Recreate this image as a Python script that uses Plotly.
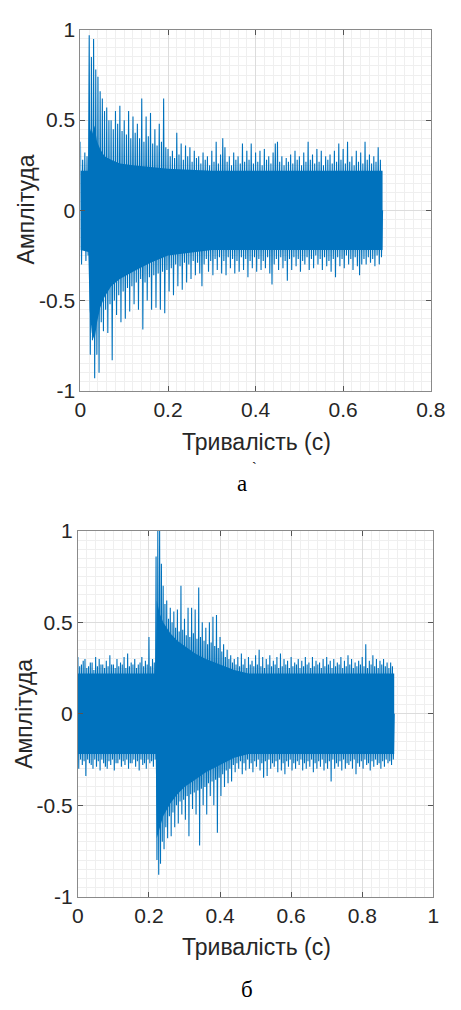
import numpy as np
import plotly.graph_objects as go

W, H = 461, 1010
STEP = 0.005  # bin width of the max/min readings below

# ---------------- data ----------------
# Signal (a): per-0.005 s bin max / min, t = 0.000 ... 0.685, signal ends at 0.69 s
a_t_end = 0.69
a_hi = [0.38, 0.28, 0.32, 0.30, 0.97, 0.85, 0.95, 0.78, 0.74, 0.66,
        0.62, 0.55, 0.57, 0.50, 0.50, 0.45, 0.55, 0.48, 0.58, 0.44,
        0.50, 0.42, 0.55, 0.40, 0.52, 0.43, 0.48, 0.40, 0.62, 0.38,
        0.52, 0.41, 0.54, 0.37, 0.45, 0.36, 0.48, 0.38, 0.62, 0.35,
        0.34, 0.30, 0.33, 0.29, 0.43, 0.31, 0.37, 0.28, 0.36, 0.30,
        0.35, 0.27, 0.33, 0.29, 0.30, 0.26, 0.32, 0.28, 0.30, 0.25,
        0.33, 0.27, 0.38, 0.26, 0.31, 0.40, 0.35, 0.27, 0.30, 0.25,
        0.32, 0.28, 0.30, 0.26, 0.37, 0.27, 0.33, 0.28, 0.37, 0.26,
        0.32, 0.27, 0.33, 0.25, 0.34, 0.28, 0.30, 0.26, 0.32, 0.37,
        0.38, 0.27, 0.30, 0.25, 0.29, 0.27, 0.31, 0.26, 0.33, 0.28,
        0.30, 0.25, 0.32, 0.27, 0.38, 0.28, 0.31, 0.26, 0.34, 0.27,
        0.33, 0.25, 0.30, 0.28, 0.31, 0.26, 0.33, 0.27, 0.37, 0.28,
        0.34, 0.26, 0.38, 0.27, 0.30, 0.25, 0.33, 0.27, 0.32, 0.26,
        0.38, 0.28, 0.31, 0.26, 0.30, 0.27, 0.35, 0.28]
a_lo = [-0.30, -0.22, -0.28, -0.25, -0.80, -0.72, -0.93, -0.80, -0.90, -0.62,
        -0.67, -0.55, -0.68, -0.52, -0.83, -0.50, -0.58, -0.47, -0.62, -0.45,
        -0.60, -0.43, -0.56, -0.42, -0.52, -0.40, -0.55, -0.38, -0.66, -0.40,
        -0.50, -0.37, -0.55, -0.36, -0.54, -0.35, -0.55, -0.34, -0.57, -0.33,
        -0.45, -0.32, -0.47, -0.30, -0.42, -0.31, -0.44, -0.29, -0.40, -0.30,
        -0.38, -0.28, -0.36, -0.29, -0.35, -0.42, -0.30, -0.27, -0.34, -0.28,
        -0.36, -0.27, -0.33, -0.26, -0.35, -0.28, -0.36, -0.26, -0.32, -0.27,
        -0.35, -0.28, -0.34, -0.26, -0.33, -0.27, -0.37, -0.28, -0.32, -0.26,
        -0.34, -0.27, -0.33, -0.28, -0.32, -0.26, -0.35, -0.41, -0.30, -0.27,
        -0.33, -0.26, -0.32, -0.28, -0.39, -0.27, -0.33, -0.26, -0.31, -0.27,
        -0.34, -0.28, -0.30, -0.26, -0.33, -0.27, -0.32, -0.25, -0.30, -0.27,
        -0.33, -0.26, -0.31, -0.28, -0.34, -0.27, -0.37, -0.26, -0.31, -0.27,
        -0.32, -0.25, -0.30, -0.27, -0.33, -0.26, -0.31, -0.36, -0.30, -0.27,
        -0.30, -0.26, -0.29, -0.27, -0.31, -0.25, -0.30, -0.26]
# dense (solid) core of signal (a)
a_core_t = [0.0, 0.018, 0.021, 0.026, 0.032, 0.038, 0.045, 0.055, 0.07, 0.09,
            0.12, 0.16, 0.20, 0.30, 0.40, 0.50, 0.60, 0.69]
a_core_hi = [0.22, 0.22, 0.46, 0.42, 0.47, 0.38, 0.34, 0.30, 0.28, 0.26,
             0.25, 0.24, 0.23, 0.22, 0.22, 0.22, 0.22, 0.22]
a_core_lo = [-0.22, -0.23, -0.55, -0.68, -0.72, -0.62, -0.54, -0.48, -0.42, -0.38,
             -0.34, -0.29, -0.25, -0.22, -0.22, -0.22, -0.22, -0.22]

# Signal (б): per-0.005 s bin max / min, t = 0.000 ... 0.885, signal ends at 0.89 s
b_t_end = 0.89
b_hi = [0.31, 0.26, 0.27, 0.29, 0.30, 0.25, 0.26, 0.28, 0.28, 0.24,
        0.31, 0.26, 0.30, 0.27, 0.27, 0.25, 0.29, 0.26, 0.32, 0.27,
        0.27, 0.25, 0.30, 0.26, 0.28, 0.27, 0.31, 0.25, 0.33, 0.26,
        0.28, 0.27, 0.30, 0.25, 0.27, 0.28, 0.31, 0.26, 0.29, 0.27,
        0.42, 0.26, 0.30, 0.28, 0.86, 1.00, 1.00, 0.82, 0.70, 0.60,
        0.62, 0.52, 0.58, 0.50, 0.56, 0.47, 0.57, 0.45, 0.70, 0.46,
        0.52, 0.43, 0.58, 0.42, 0.58, 0.44, 0.57, 0.41, 0.69, 0.42,
        0.50, 0.40, 0.47, 0.38, 0.50, 0.39, 0.53, 0.37, 0.54, 0.36,
        0.42, 0.34, 0.38, 0.31, 0.35, 0.30, 0.32, 0.28, 0.30, 0.27,
        0.31, 0.26, 0.33, 0.27, 0.30, 0.25, 0.31, 0.27, 0.29, 0.26,
        0.32, 0.27, 0.35, 0.26, 0.31, 0.25, 0.30, 0.27, 0.32, 0.26,
        0.29, 0.27, 0.31, 0.25, 0.33, 0.26, 0.30, 0.27, 0.29, 0.25,
        0.31, 0.26, 0.28, 0.27, 0.30, 0.25, 0.29, 0.26, 0.31, 0.27,
        0.28, 0.25, 0.31, 0.26, 0.29, 0.27, 0.28, 0.25, 0.30, 0.26,
        0.31, 0.27, 0.29, 0.25, 0.30, 0.26, 0.28, 0.27, 0.31, 0.25,
        0.29, 0.26, 0.32, 0.27, 0.30, 0.25, 0.28, 0.26, 0.29, 0.27,
        0.31, 0.26, 0.38, 0.25, 0.29, 0.27, 0.32, 0.26, 0.30, 0.25,
        0.29, 0.27, 0.30, 0.26, 0.28, 0.25, 0.28, 0.26]
b_lo = [-0.30, -0.25, -0.28, -0.26, -0.34, -0.25, -0.27, -0.28, -0.30, -0.25,
        -0.29, -0.26, -0.31, -0.25, -0.27, -0.29, -0.30, -0.26, -0.28, -0.25,
        -0.31, -0.27, -0.27, -0.25, -0.29, -0.26, -0.28, -0.25, -0.30, -0.27,
        -0.27, -0.25, -0.29, -0.26, -0.31, -0.25, -0.28, -0.27, -0.30, -0.25,
        -0.27, -0.26, -0.29, -0.25, -0.80, -0.88, -0.82, -0.70, -0.74, -0.62,
        -0.68, -0.56, -0.67, -0.54, -0.62, -0.50, -0.60, -0.48, -0.55, -0.47,
        -0.58, -0.45, -0.67, -0.44, -0.52, -0.43, -0.55, -0.42, -0.72, -0.41,
        -0.50, -0.40, -0.55, -0.38, -0.45, -0.37, -0.50, -0.36, -0.65, -0.35,
        -0.45, -0.33, -0.40, -0.31, -0.38, -0.30, -0.37, -0.28, -0.32, -0.27,
        -0.30, -0.26, -0.33, -0.27, -0.31, -0.25, -0.30, -0.27, -0.32, -0.26,
        -0.29, -0.25, -0.31, -0.27, -0.35, -0.26, -0.34, -0.25, -0.30, -0.27,
        -0.29, -0.26, -0.32, -0.25, -0.31, -0.27, -0.33, -0.26, -0.29, -0.25,
        -0.31, -0.27, -0.30, -0.26, -0.28, -0.25, -0.31, -0.27, -0.30, -0.26,
        -0.29, -0.25, -0.32, -0.27, -0.30, -0.26, -0.29, -0.25, -0.31, -0.27,
        -0.30, -0.26, -0.37, -0.25, -0.30, -0.27, -0.29, -0.26, -0.31, -0.25,
        -0.30, -0.27, -0.28, -0.26, -0.30, -0.25, -0.33, -0.27, -0.29, -0.26,
        -0.30, -0.25, -0.28, -0.27, -0.31, -0.26, -0.29, -0.25, -0.28, -0.27,
        -0.30, -0.26, -0.29, -0.25, -0.27, -0.26, -0.28, -0.25]
# dense (solid) core of signal (б)
b_core_t = [0.0, 0.219, 0.222, 0.23, 0.24, 0.26, 0.28, 0.30, 0.33, 0.36, 0.40,
            0.44, 0.48, 0.60, 0.70, 0.80, 0.89]
b_core_hi = [0.22, 0.22, 0.62, 0.55, 0.50, 0.44, 0.40, 0.37, 0.33, 0.30, 0.27,
             0.24, 0.22, 0.22, 0.22, 0.22, 0.22]
b_core_lo = [-0.22, -0.22, -0.68, -0.62, -0.56, -0.49, -0.44, -0.40, -0.36, -0.32, -0.28,
             -0.24, -0.22, -0.22, -0.22, -0.22, -0.22]

a_xticks = [0, 0.2, 0.4, 0.6, 0.8]
a_xtext = ["0", "0.2", "0.4", "0.6", "0.8"]
b_xticks = [0, 0.2, 0.4, 0.6, 0.8, 1.0]
b_xtext = ["0", "0.2", "0.4", "0.6", "0.8", "1"]
yticks = [-1, -0.5, 0, 0.5, 1]
ytext = ["-1", "-0.5", "0", "0.5", "1"]

x_title = "Тривалість (с)"
y_title = "Амплітуда"
captions = ["а", "б"]

BLUE = "#0072BD"


def zigzag(hi, lo, t_end, step=STEP):
    xs, ys = [], []
    for i, (h, l) in enumerate(zip(hi, lo)):
        t = round(i * step, 5)
        xs += [t, t + step / 2]
        ys += [h, l]
    xs.append(t_end)
    ys.append(0.0)
    return xs, ys


def band(ct, chi, clo):
    return list(ct) + list(ct)[::-1], list(chi) + list(clo)[::-1]


fig = go.Figure()

for (hi, lo, tend, ct, chi, clo, xa, ya) in [
    (a_hi, a_lo, a_t_end, a_core_t, a_core_hi, a_core_lo, "x", "y"),
    (b_hi, b_lo, b_t_end, b_core_t, b_core_hi, b_core_lo, "x2", "y2"),
]:
    zx, zy = zigzag(hi, lo, tend)
    fig.add_trace(go.Scatter(x=zx, y=zy, mode="lines",
                             line=dict(width=1.1, color=BLUE),
                             xaxis=xa, yaxis=ya, showlegend=False))
    bx, by = band(ct, chi, clo)
    fig.add_trace(go.Scatter(x=bx, y=by, fill="toself", fillcolor=BLUE,
                             line=dict(width=0, color=BLUE), mode="lines",
                             xaxis=xa, yaxis=ya, hoverinfo="skip", showlegend=False))

FONT = "Liberation Sans, Arial, sans-serif"
TICKC = "#262626"
LINEC = "#8a8a8a"


def xaxis_cfg(domain, rng, tv, tt, minor, anchor):
    return dict(domain=domain, range=rng, tickvals=tv, ticktext=tt, anchor=anchor,
                showline=True, linecolor=LINEC, linewidth=1, mirror="ticks",
                ticks="inside", ticklen=5, tickcolor="#555555",
                showgrid=True, gridcolor="#dcdcdc", gridwidth=1, zeroline=False,
                minor=dict(dtick=minor, tick0=0, showgrid=True, gridcolor="#efefef",
                           gridwidth=1, ticks=""),
                tickfont=dict(family=FONT, size=21, color=TICKC))


def yaxis_cfg(domain, anchor):
    return dict(domain=domain, range=[-1, 1], tickvals=yticks, ticktext=ytext, anchor=anchor,
                showline=True, linecolor=LINEC, linewidth=1, mirror="ticks",
                ticks="inside", ticklen=5, tickcolor="#555555",
                showgrid=True, gridcolor="#dcdcdc", gridwidth=1, zeroline=False,
                minor=dict(dtick=0.05, tick0=0, showgrid=True, gridcolor="#efefef",
                           gridwidth=1, ticks=""),
                tickfont=dict(family=FONT, size=21, color=TICKC))


def px(x, y):
    return x / W, 1 - y / H


fig.update_layout(
    width=W, height=H, margin=dict(l=0, r=0, t=0, b=0),
    paper_bgcolor="white", plot_bgcolor="white",
    xaxis=xaxis_cfg([78 / W, 445 / W], [0, 0.8], a_xticks, a_xtext, 0.02, "y"),
    yaxis=yaxis_cfg([1 - 387.7 / H, 1 - 18.3 / H], "x"),
    xaxis2=xaxis_cfg([75.3 / W, 447.7 / W], [0, 1], b_xticks, b_xtext, 0.025, "y2"),
    yaxis2=yaxis_cfg([1 - 905.3 / H, 1 - 531.0 / H], "x2"),
)

ann = []
def add_text(text, x, y, size, family=FONT, angle=0, color=TICKC):
    ax, ay = px(x, y)
    ann.append(dict(text=text, x=ax, y=ay, xref="paper", yref="paper", showarrow=False,
                    xanchor="center", yanchor="middle", textangle=angle,
                    font=dict(family=family, size=size, color=color)))

add_text(x_title, 262, 440, 23)
add_text(y_title, 21, 202, 23, angle=-90)
add_text(x_title, 262, 957, 23)
add_text(y_title, 19, 718, 23, angle=-90)
SERIF = "Liberation Serif, Times New Roman, serif"
add_text(captions[0], 247, 482, 23, family=SERIF, color="#000000")
add_text("`", 260, 466, 14, family=SERIF, color="#000000")
add_text(captions[1], 252, 1000, 23, family=SERIF, color="#000000")
fig.update_layout(annotations=ann)

fig.write_html("out.html", config={"displayModeBar": False},
               post_script="document.body.style.margin='0';document.body.style.overflow='hidden';")
